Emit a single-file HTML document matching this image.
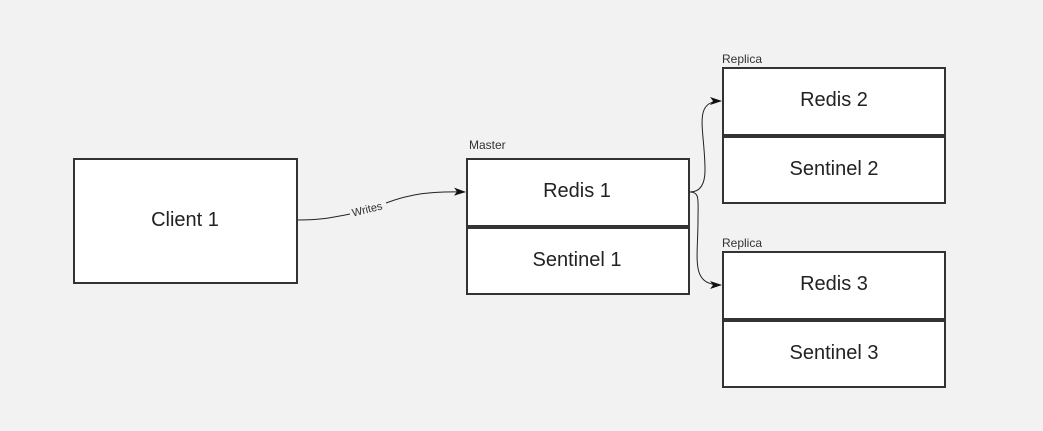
<!DOCTYPE html>
<html><head><style>html,body{margin:0;padding:0;background:#f2f2f2}svg{display:block}</style></head>
<body>
<svg width="1043" height="431" xmlns="http://www.w3.org/2000/svg" font-family="'Liberation Sans', 'DejaVu Sans', sans-serif">
<rect width="1043" height="431" fill="#f2f2f2"/>
<defs><marker id="a" markerWidth="12" markerHeight="8" refX="11" refY="4" orient="auto" markerUnits="userSpaceOnUse"><path d="M0,0 L12,4 L0,8 L3,4 Z" fill="#111"/></marker></defs>
<g fill="#fff" stroke="#333" stroke-width="2">
<rect x="74" y="159" width="223" height="124"/>
<rect x="467" y="159" width="222" height="67"/>
<rect x="467" y="228" width="222" height="66"/>
<rect x="723" y="68" width="222" height="67"/>
<rect x="723" y="137" width="222" height="66"/>
<rect x="723" y="252" width="222" height="67"/>
<rect x="723" y="321" width="222" height="66"/>
</g>
<g fill="none" stroke="#222" stroke-width="1">
<path d="M298,220 C320,220 330,218 350,214 M386,203 C410,194 430,191 465,192" marker-end="url(#a)"/>
<path d="M690,192 C700,192 705,185 705,170 C705,130 692,101 721,101" marker-end="url(#a)"/>
<path d="M690,192 C700,192 698,200 698,220 C698,260 690,285 721,285" marker-end="url(#a)"/>
</g>
<text x="367" y="213" font-size="11" fill="#333" text-anchor="middle" transform="rotate(-14 367 209)">Writes</text>
<g font-size="12" fill="#333">
<text x="469" y="149">Master</text>
<text x="722" y="63">Replica</text>
<text x="722" y="247">Replica</text>
</g>
<g font-size="20" fill="#222" text-anchor="middle">
<text x="185" y="226">Client 1</text>
<text x="577" y="197">Redis 1</text>
<text x="577" y="266">Sentinel 1</text>
<text x="834" y="106">Redis 2</text>
<text x="834" y="175">Sentinel 2</text>
<text x="834" y="290">Redis 3</text>
<text x="834" y="359">Sentinel 3</text>
</g>
</svg>
</body></html>
